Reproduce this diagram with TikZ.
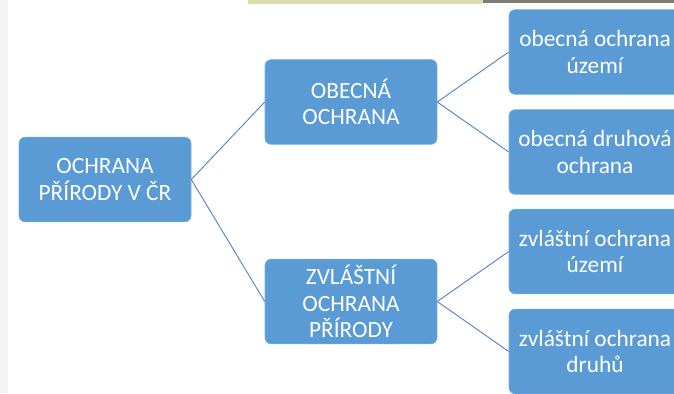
\documentclass[tikz,border=0pt]{standalone}
\usepackage{fontspec}
\setmainfont{Carlito}
\usepackage{xcolor}
\usetikzlibrary{positioning}

\definecolor{boxblue}{HTML}{5B9BD5}
\definecolor{lineblue}{HTML}{5387C2}
\definecolor{stripgray}{HTML}{F3F3F3}
\definecolor{stripbeige}{HTML}{DCDBB0}
\definecolor{stripdark}{HTML}{7F7B76}

\tikzset{
	box/.style = {rectangle, rounded corners = 4.5pt, fill = boxblue, draw = boxblue!80!white,
		text = white, align = center, minimum width = 129pt, minimum height = 63.5pt,
		inner sep = 2pt, font = \fontsize{17.5}{19.8}\selectfont},
	link/.style = {draw = lineblue, line width = 0.7pt}
}

\begin{document}
\begin{tikzpicture}[x=0.75pt, y=-0.75pt]
		\clip (0,0) rectangle (674,393);
		\fill[white] (0,0) rectangle (674,393);
		% edges of the screenshot
		\fill[stripgray] (0,0) rectangle (8,393);
		\fill[stripbeige] (248,0) rectangle (483,4);
		\fill[stripdark] (483,0) rectangle (674,3);

		\node[box] (ochrana) at (105,179.5) {OCHRANA\\PŘÍRODY V ČR};

		\node[box] (obecna) at (351,102) {OBECNÁ\\OCHRANA};
		\node[box] (zvlastni) at (351,301.5) {ZVLÁŠTNÍ\\OCHRANA\\PŘÍRODY};

		\node[box] (uzemi) at (595,52) {obecná ochrana\\území};
		\node[box] (druhova) at (595,152) {obecná druhová\\ochrana};
		\node[box] (zvuzemi) at (595,251.5) {zvláštní ochrana\\území};
		\node[box] (zvdruhu) at (595,351.5) {zvláštní ochrana\\druhů};

		\draw[link] (ochrana.east) -- (obecna.west);
		\draw[link] (ochrana.east) -- (zvlastni.west);
		\draw[link] (obecna.east) -- (uzemi.west);
		\draw[link] (obecna.east) -- (druhova.west);
		\draw[link] (zvlastni.east) -- (zvuzemi.west);
		\draw[link] (zvlastni.east) -- (zvdruhu.west);
	\end{tikzpicture}
\end{document}
